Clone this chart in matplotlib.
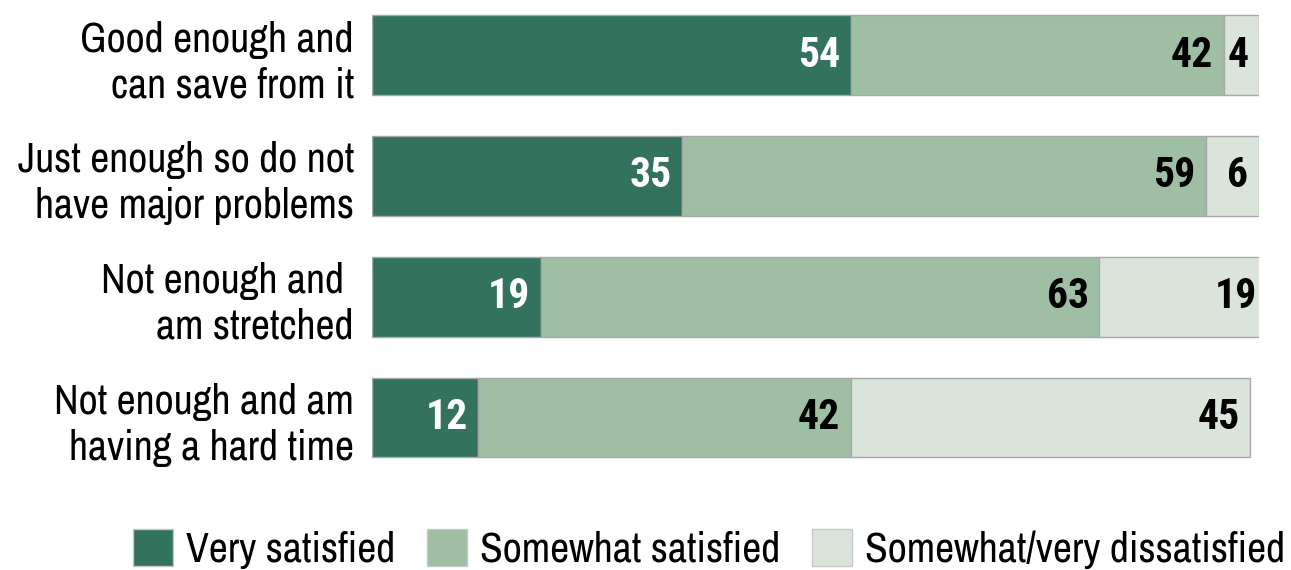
import matplotlib
matplotlib.use("Agg")
import matplotlib.pyplot as plt
from matplotlib import font_manager as fm
from matplotlib.patches import Patch

avail = {}
for f in fm.fontManager.ttflist:
    avail.setdefault(f.name, set()).add(f.weight if isinstance(f.weight, int) else 400)

def pick(cands, need_bold=False):
    for c in cands:
        if c in avail and (not need_bold or any(w >= 600 for w in avail[c])):
            return c
    return "Liberation Sans"

REG = pick(["Liberation Sans Narrow", "Archivo Narrow", "Roboto Condensed", "PT Sans Narrow", "Asap Condensed"])
BOLD = pick(["Liberation Sans Narrow", "Archivo Narrow", "Roboto Condensed", "PT Sans Narrow", "Asap Condensed"], True)
plt.rcParams['font.family'] = [REG, 'DejaVu Sans']

categories = ["Good enough and\ncan save from it",
              "Just enough so do not\nhave major problems",
              "Not enough and \nam stretched",
              "Not enough and am\nhaving a hard time"]
very = [54, 35, 19, 12]
somewhat = [42, 59, 63, 42]
dissat = [4, 6, 19, 45]
series_names = ["Very satisfied", "Somewhat satisfied", "Somewhat/very dissatisfied"]
colors = ["#33735E", "#9FBFA4", "#DAE4DA"]
text_colors = ["white", "black", "black"]

W, H = 1291, 570
fig = plt.figure(figsize=(W/100, H/100), dpi=100)
ax = fig.add_axes([372/W, 1-465.8/H, 887/W, (465.8-6.7)/H])

ypos = list(range(len(categories)))
left = [0]*len(categories)
for vals, c, tc in zip([very, somewhat, dissat], colors, text_colors):
    ax.barh(ypos, vals, left=left, height=0.66, color=c,
            edgecolor="#A8A8A8", linewidth=1)
    for y, l, v in zip(ypos, left, vals):
        ax.text(l + v - 1.2, y, str(v), ha="right", va="center",
                fontsize=30, fontweight="bold", color=tc, family=[BOLD, 'DejaVu Sans'])
    left = [a + b for a, b in zip(left, vals)]

ax.set_xlim(0, 100)
ax.set_ylim(3.4, -0.4)
ax.set_yticks(ypos)
ax.set_yticklabels(categories, fontsize=30, linespacing=1.25)
ax.tick_params(axis="y", length=0, pad=13)
ax.set_xticks([])
for s in ax.spines.values():
    s.set_visible(False)

handles = [Patch(facecolor=c, edgecolor="#C8C8C8", linewidth=1) for c in colors]
fig.legend(handles, series_names, loc="center", bbox_to_anchor=(709/W, 1-549/H),
           ncol=3, frameon=False, fontsize=30, handlelength=0.96, handleheight=0.96,
           handletextpad=0.31, columnspacing=0.77, borderaxespad=0)

fig.savefig("out.png", dpi=100)
